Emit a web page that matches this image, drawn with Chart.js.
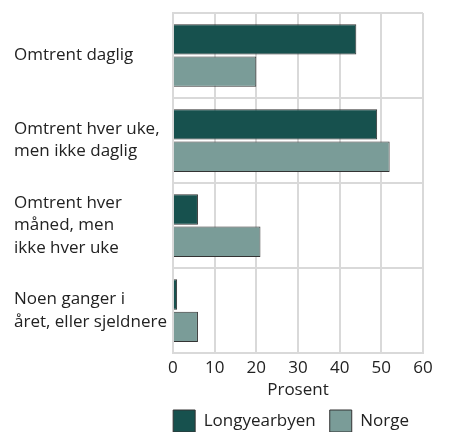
<!doctype html>
<html lang="no">

<head>
    <meta charset="utf-8">
    <title>Hyppighet</title>
    <style>
        * {
            margin: 0;
            padding: 0;
        }

        body {
            background: #fff;
        }

        .chartBox {
            width: 449px;
            height: 432px;
        }
    </style>
</head>

<body>
    <div class="chartBox">
        <canvas id="myChart"></canvas>
    </div>

    <script src="https://cdn.jsdelivr.net/npm/chart.js"></script>

    <script>
        // categories (multi-line labels as in the original)
        const categories = [
            ['Omtrent daglig'],
            ['Omtrent hver uke,', 'men ikke daglig'],
            ['Omtrent hver', 'måned, men', 'ikke hver uke'],
            ['Noen ganger i', 'året, eller sjeldnere']
        ];
        const longyearbyen = [44, 49, 6, 1];
        const norge = [20, 52, 21, 6];
        const xTicks = [0, 10, 20, 30, 40, 50, 60];

        const font = { family: "'Open Sans', sans-serif", size: 17 };
        const gridColor = '#d9d9d9';

        const data = {
            labels: categories,
            datasets: [{
                label: 'Longyearbyen',
                data: longyearbyen,
                backgroundColor: '#17514e',
                borderColor: '#333333',
                borderWidth: 1
            }, {
                label: 'Norge',
                data: norge,
                backgroundColor: '#7a9c98',
                borderColor: '#333333',
                borderWidth: 1
            }]
        };

        // the legend sits low, its boxes run to the bottom edge of the picture
        const legendHeight = {
            id: 'legendHeight',
            beforeLayout(chart) {
                const legend = chart.legend;
                if (legend && !legend._patched) {
                    const fit = legend.fit;
                    legend.fit = function () {
                        fit.call(this);
                        this.height = 36;
                    };
                    legend._patched = true;
                }
            }
        };

        const config = {
            type: 'bar',
            data,
            plugins: [legendHeight],
            options: {
                indexAxis: 'y',
                responsive: true,
                maintainAspectRatio: false,
                animation: false,
                categoryPercentage: 0.76,
                barPercentage: 0.94,
                layout: {
                    padding: { left: 14, right: 26, top: 13, bottom: 0 }
                },
                scales: {
                    x: {
                        min: xTicks[0],
                        max: xTicks[xTicks.length - 1],
                        afterBuildTicks: (axis) => {
                            axis.ticks = xTicks.map(v => ({ value: v }));
                        },
                        grid: { color: gridColor, lineWidth: 2, drawTicks: false },
                        border: { color: gridColor, width: 2 },
                        ticks: { color: '#222', font, padding: 5 },
                        title: {
                            display: true,
                            text: 'Prosent',
                            color: '#222',
                            font,
                            padding: { top: -4, bottom: -4 }
                        }
                    },
                    y: {
                        // labels sit in the middle of each band, no need for extra room above
                        afterFit: (axis) => {
                            axis.paddingTop = 0;
                            axis.paddingBottom = 0;
                        },
                        grid: { color: gridColor, lineWidth: 2, drawTicks: false },
                        border: { color: gridColor, width: 2 },
                        ticks: {
                            color: '#222',
                            font: { family: font.family, size: 17, lineHeight: 1.3 },
                            crossAlign: 'far',
                            padding: 3
                        }
                    }
                },
                plugins: {
                    tooltip: { enabled: false },
                    legend: {
                        position: 'bottom',
                        align: 'end',
                        labels: {
                            color: '#222',
                            font: { family: font.family, size: 17 },
                            boxWidth: 22,
                            boxHeight: 22,
                            padding: 14
                        }
                    }
                }
            }
        };

        const myChart = new Chart(document.getElementById('myChart'), config);
    </script>
</body>

</html>
